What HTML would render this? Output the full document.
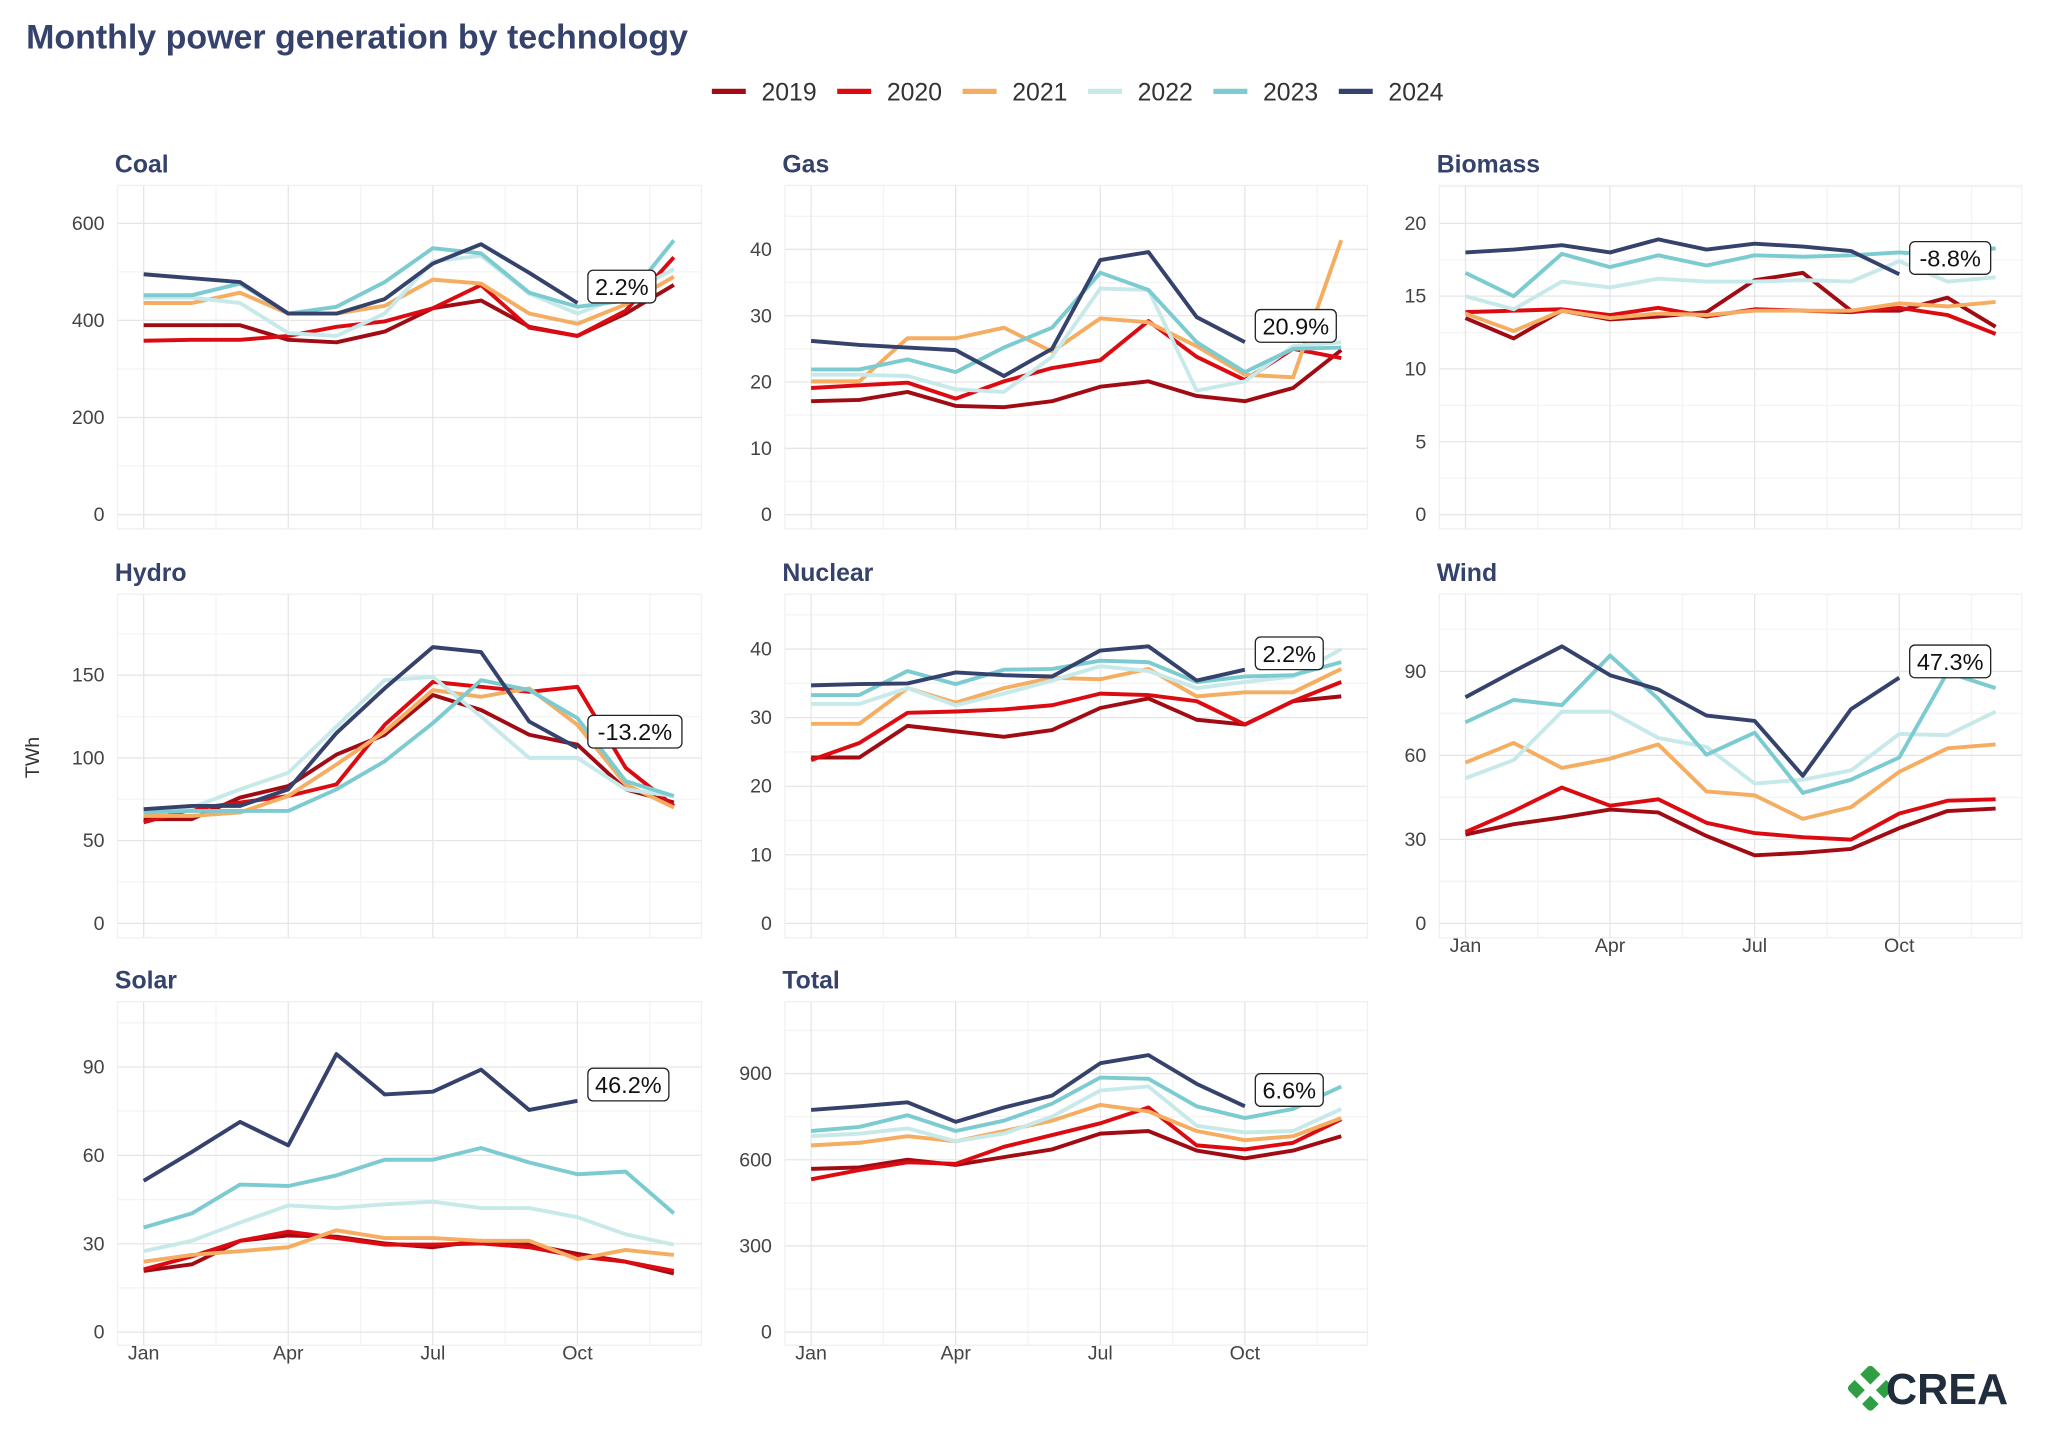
<!DOCTYPE html>
<html><head><meta charset="utf-8">
<style>
html,body{margin:0;padding:0;background:#fff;}
svg{display:block;font-family:"Liberation Sans",sans-serif;}
</style></head>
<body>
<svg id="chart" width="2048" height="1434" viewBox="0 0 1568 1098" preserveAspectRatio="none" xmlns="http://www.w3.org/2000/svg">
<rect x="0" y="0" width="1568" height="1098" fill="#fff"/>
<text x="20" y="37" font-size="26" font-weight="bold" fill="#35426b">Monthly power generation by technology</text>
<text transform="translate(30,580) rotate(-90)" font-size="15" fill="#333" text-anchor="middle">TWh</text>
<g id="legend"></g>
<g id="panels"></g>
<g>
<g transform="translate(1432,1063) rotate(45)"><rect x="-13" y="-13" width="26" height="26" rx="3" fill="#2f9e44"/><rect x="-13" y="-2" width="26" height="6" fill="#fff"/><rect x="-2" y="-13" width="6" height="26" fill="#fff"/></g>
<text x="1444" y="1075" font-size="33" font-weight="bold" fill="#1f2d3d">CREA</text>
</g>
</svg>
<script>
const years = ["2019","2020","2021","2022","2023","2024"];
const colors = ["#a10c14","#dc0b12","#f5ad62","#c8e9ea","#7ccbd0","#35426b"];
const monthLabels = ["Jan","Apr","Jul","Oct"];
const coal2019=[390,390,390,360,355,377,425,441,387,368,414,473];
const coal2020=[358,360,360,368,387,398,425,473,385,368,420,530];
const coal2021=[436,436,457,414,414,430,484,476,414,393,433,490];
const coal2022=[447,447,436,374,368,414,522,533,455,414,452,506];
const coal2023=[452,452,476,414,428,479,549,538,457,428,441,565];
const coal2024=[495,487,479,414,414,444,517,557,498,436];
const gas2019=[17.1,17.3,18.5,16.4,16.2,17.1,19.3,20.1,17.9,17.1,19.1,24.8];
const gas2020=[19.1,19.5,19.9,17.5,20.1,22.1,23.3,29.2,23.8,20.3,25.0,23.6];
const gas2021=[20.1,20.1,26.6,26.6,28.2,24.6,29.6,29.0,25.4,21.1,20.7,41.4];
const gas2022=[21.1,21.1,20.9,18.9,18.5,23.8,34.1,33.9,18.7,20.1,25.4,26.0];
const gas2023=[21.9,21.9,23.4,21.5,25.2,28.2,36.5,33.9,26.0,21.5,25.0,25.2];
const gas2024=[26.2,25.6,25.2,24.8,20.9,25.0,38.4,39.6,29.8,26.0];
const bio2019=[13.5,12.1,14.0,13.4,13.6,13.9,16.1,16.6,14.0,14.0,14.9,12.9];
const bio2020=[13.9,14.0,14.1,13.7,14.2,13.6,14.1,14.0,13.9,14.2,13.7,12.4];
const bio2021=[13.8,12.6,14.0,13.5,13.8,13.7,14.0,14.0,14.0,14.5,14.3,14.6];
const bio2022=[15.0,14.1,16.0,15.6,16.2,16.0,16.0,16.1,16.0,17.4,16.0,16.3];
const bio2023=[16.6,15.0,17.9,17.0,17.8,17.1,17.8,17.7,17.8,18.0,17.8,18.3];
const bio2024=[18.0,18.2,18.5,18.0,18.9,18.2,18.6,18.4,18.1,16.5];
const hydro2019=[63,63,76,83,102,114,138,129,114,108,81,73];
const hydro2020=[61,69,73,77,84,120,146,143,140,143,94,71];
const hydro2021=[65,65,67,77,96,116,141,137,142,120,84,70];
const hydro2022=[69,70,81,91,119,147,149,125,100,100,81,77];
const hydro2023=[67,68,68,68,81,98,121,147,141,124,86,77];
const hydro2024=[69,71,71,81,115,142,167,164,122,106];
const nuc2019=[24.2,24.2,28.8,28.0,27.2,28.2,31.4,32.8,29.7,29.0,32.4,33.1];
const nuc2020=[23.8,26.3,30.7,30.9,31.2,31.8,33.5,33.3,32.4,29.0,32.4,35.2];
const nuc2021=[29.1,29.1,34.3,32.2,34.3,35.8,35.6,37.1,33.1,33.7,33.7,37.1];
const nuc2022=[32.0,32.0,34.3,31.8,33.5,35.4,37.5,36.8,34.3,35.2,36.0,40.0];
const nuc2023=[33.3,33.3,36.8,34.9,37.0,37.1,38.3,38.1,35.2,36.0,36.2,38.1];
const nuc2024=[34.7,34.9,35.0,36.6,36.2,36.0,39.8,40.4,35.4,37.0];
const wind2019=[31.7,35.4,37.8,40.6,39.6,31.2,24.3,25.2,26.6,34.0,40.1,41.0];
const wind2020=[32.6,40.1,48.5,42.0,44.3,35.9,32.2,30.8,29.9,39.2,43.8,44.3];
const wind2021=[57.4,64.4,55.5,58.8,63.9,47.1,45.7,37.3,41.5,54.1,62.5,63.9];
const wind2022=[51.8,58.3,75.6,75.6,66.2,63.0,49.9,51.3,54.6,67.6,67.2,75.6];
const wind2023=[71.8,79.8,77.9,95.6,80.2,60.2,68.1,46.6,51.3,59.2,89.6,84.0];
const wind2024=[80.7,90.0,98.9,88.6,83.5,74.2,72.3,52.7,76.5,87.7];
const solar2019=[20.8,23.0,31.0,32.8,32.4,30.1,28.8,31.0,29.7,26.6,23.9,19.9];
const solar2020=[21.3,25.7,31.0,34.1,31.9,29.7,29.7,30.1,28.8,25.7,23.9,20.8];
const solar2021=[23.9,26.2,27.5,28.8,34.6,31.9,31.9,31.0,31.0,24.8,27.9,26.2];
const solar2022=[27.5,31.0,37.2,43.0,42.1,43.4,44.3,42.1,42.1,39.0,33.2,29.7];
const solar2023=[35.5,40.3,50.1,49.6,53.2,58.5,58.5,62.5,57.6,53.6,54.5,40.3];
const solar2024=[51.4,61.2,71.4,63.4,94.4,80.7,81.6,89.1,75.4,78.5];
const total2019=[568,573,600,582,609,636,691,700,632,605,632,682];
const total2020=[532,564,591,586,645,686,727,782,650,636,659,741];
const total2021=[650,659,682,664,700,736,791,768,700,668,682,745];
const total2022=[682,691,709,664,691,750,841,855,718,695,700,777];
const total2023=[700,714,755,700,736,795,886,882,786,745,777,855];
const total2024=[773,786,800,732,782,823,936,964,864,786];
const coalTicks=[0,200,400,600], gasTicks=[0,10,20,30,40], bioTicks=[0,5,10,15,20];
const hydroTicks=[0,50,100,150], nucTicks=[0,10,20,30,40], windTicks=[0,30,60,90];
const solarTicks=[0,30,60,90], totalTicks=[0,300,600,900];
const labels=["2.2%","20.9%","-8.8%","-13.2%","2.2%","47.3%","46.2%","6.6%"];

const NS="http://www.w3.org/2000/svg";
function mk(tag,attrs,parent){const e=document.createElementNS(NS,tag);for(const k in attrs)e.setAttribute(k,attrs[k]);parent.appendChild(e);return e;}

const lg=document.getElementById('legend');
years.forEach((y,i)=>{
  const x0=545+i*96;
  const l=mk('line',{x1:x0,y1:70,x2:x0+26,y2:70,stroke:colors[i],'stroke-width':4},lg);
  
  
  const t=mk('text',{x:x0+38,y:77,'font-size':19,fill:'#333'},lg);
  t.textContent=y;
  
  
});

const cols=[{l:90,r:537,jan:110},{l:601,r:1047,jan:621},{l:1102,r:1548,jan:1122}];
const rows=[{t:142,b:405,zero:394},{t:455,b:718,zero:707},{t:767,b:1030,zero:1020}];
const panels=[
 {name:"Coal",c:0,r:0,ticks:coalTicks,max:600,top:171,series:[coal2019,coal2020,coal2021,coal2022,coal2023,coal2024],lab:labels[0],xl:false},
 {name:"Gas",c:1,r:0,ticks:gasTicks,max:40,top:191,series:[gas2019,gas2020,gas2021,gas2022,gas2023,gas2024],lab:labels[1],xl:false},
 {name:"Biomass",c:2,r:0,ticks:bioTicks,max:20,top:171,series:[bio2019,bio2020,bio2021,bio2022,bio2023,bio2024],lab:labels[2],xl:false},
 {name:"Hydro",c:0,r:1,ticks:hydroTicks,max:150,top:517,series:[hydro2019,hydro2020,hydro2021,hydro2022,hydro2023,hydro2024],lab:labels[3],xl:false},
 {name:"Nuclear",c:1,r:1,ticks:nucTicks,max:40,top:497,series:[nuc2019,nuc2020,nuc2021,nuc2022,nuc2023,nuc2024],lab:labels[4],xl:false},
 {name:"Wind",c:2,r:1,ticks:windTicks,max:90,top:514,series:[wind2019,wind2020,wind2021,wind2022,wind2023,wind2024],lab:labels[5],xl:true},
 {name:"Solar",c:0,r:2,ticks:solarTicks,max:90,top:817,series:[solar2019,solar2020,solar2021,solar2022,solar2023,solar2024],lab:labels[6],xl:true},
 {name:"Total",c:1,r:2,ticks:totalTicks,max:900,top:822,series:[total2019,total2020,total2021,total2022,total2023,total2024],lab:labels[7],xl:true}
];
const step=36.9;
const pg=document.getElementById('panels');
panels.forEach(p=>{
  const C=cols[p.c],R=rows[p.r];
  const key=p.name.toLowerCase();
  const g=mk('g',{},pg);
  
  
  const xs=i=>C.jan+i*step;
  const ys=v=>R.zero-(v/p.max)*(R.zero-p.top);
  const tstep=p.ticks[1]-p.ticks[0];
  for(let v=tstep/2;ys(v)>R.t;v+=tstep){mk('line',{x1:C.l,x2:C.r,y1:ys(v),y2:ys(v),stroke:'#f4f4f4','stroke-width':1},g);}
  [1.5,4.5,7.5,10.5].forEach(m=>mk('line',{x1:xs(m),x2:xs(m),y1:R.t,y2:R.b,stroke:'#f4f4f4','stroke-width':1},g));
  mk('rect',{x:C.l,y:R.t,width:C.r-C.l,height:R.b-R.t,fill:'none',stroke:'#f0f0f0','stroke-width':1},g);
  p.ticks.forEach(v=>{
    mk('line',{x1:C.l,x2:C.r,y1:ys(v),y2:ys(v),stroke:'#e6e6e6','stroke-width':1},g);
    const t=mk('text',{x:C.l-10,y:ys(v)+5,'font-size':15,fill:'#444','text-anchor':'end'},g);
    t.textContent=v;
    
    
  });
  [0,3,6,9].forEach((m,j)=>{
    mk('line',{x1:xs(m),x2:xs(m),y1:R.t,y2:R.b,stroke:'#e6e6e6','stroke-width':1},g);
    if(p.xl){
      const t=mk('text',{x:xs(m),y:R.b+11,'font-size':15,fill:'#444','text-anchor':'middle'},g);
      t.textContent=monthLabels[j];
      
      
    }
  });
  const ti=mk('text',{x:C.l-2,y:R.t-10,'font-size':19,'font-weight':'bold',fill:'#35426b'},g);
  ti.textContent=p.name;
  
  
  p.series.forEach((s,i)=>{
    const pts=s.map((v,k)=>xs(k).toFixed(1)+','+ys(v).toFixed(1)).join(' ');
    const pl=mk('polyline',{points:pts,fill:'none',stroke:colors[i],'stroke-width':3,'stroke-linejoin':'round','stroke-linecap':'butt'},g);
    
    
  });
  const last=p.series[5];
  const lx=xs(last.length-1), ly=ys(last[last.length-1]);
  const w=p.lab.length*10+12;
  const bx=lx+8, by=ly-25;
  const bg=mk('g',{},g);
  
  
  mk('rect',{x:bx,y:by,width:w,height:25,rx:4,fill:'#fff',stroke:'#222','stroke-width':1},bg);
  const lt=mk('text',{x:bx+w/2,y:by+19,'font-size':18,fill:'#111','text-anchor':'middle'},bg);
  lt.textContent=p.lab;
});
</script>
</body></html>
